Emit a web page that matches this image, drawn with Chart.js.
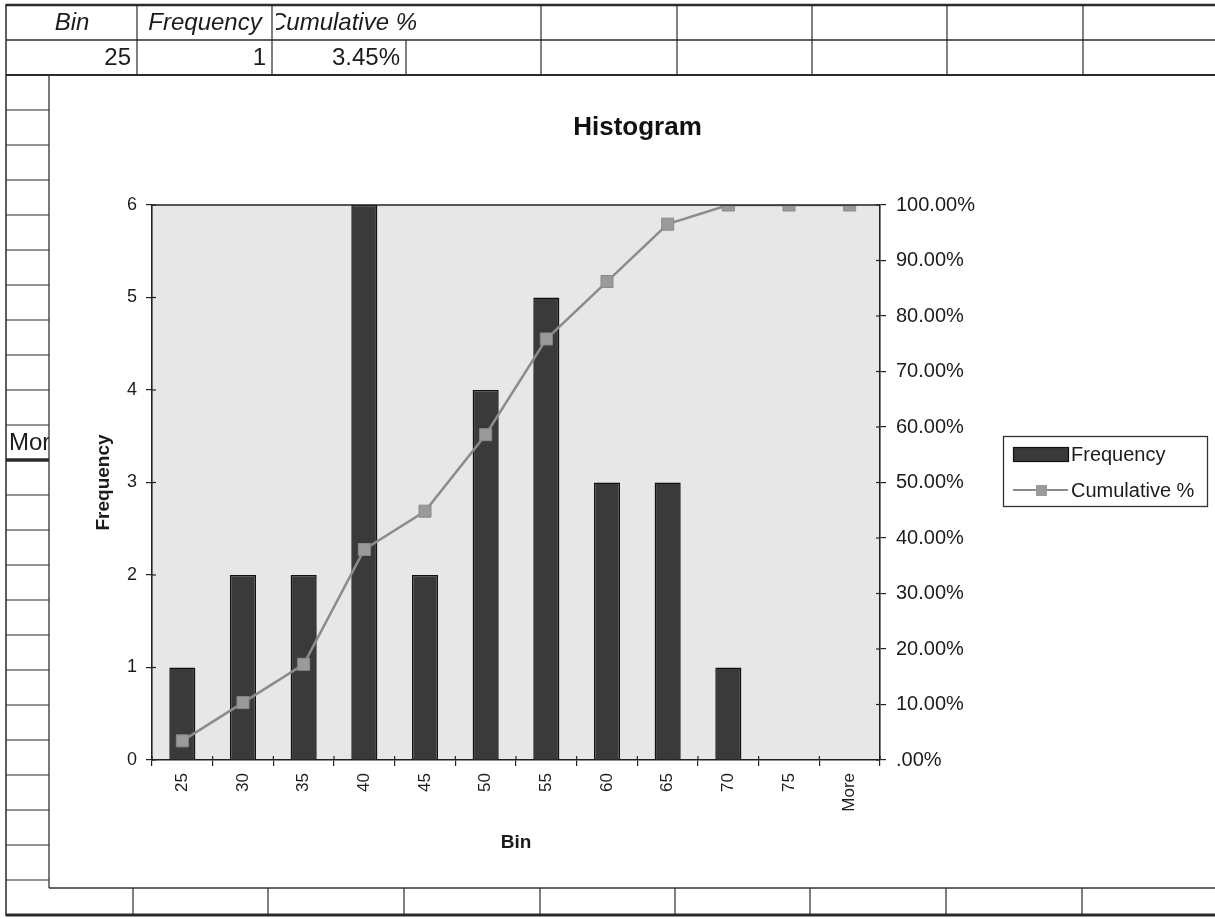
<!DOCTYPE html>
<html>
<head>
<meta charset="utf-8">
<title>Histogram</title>
<script src="https://cdn.jsdelivr.net/npm/chart.js@4.4.1/dist/chart.umd.min.js"></script>
<style>
  html, body { margin: 0; padding: 0; background: #fff; }
  #wrap { width: 1215px; height: 919px; position: relative; }
  canvas { display: block; }
</style>
</head>
<body>
<div id="wrap"><canvas id="histo" width="1215" height="919"></canvas></div>
<script>
// Histogram data (bins, counts and running percentage)
const bins = ['25', '30', '35', '40', '45', '50', '55', '60', '65', '70', '75', 'More'];
const frequency = [1, 2, 2, 6, 2, 4, 5, 3, 3, 1, 0, 0];
const cumulativePct = [3.45, 10.34, 17.24, 37.93, 44.83, 58.62, 75.86, 86.21, 96.55, 100, 100, 100];

// Column headings of the worksheet table
const tableHeaders = ['Bin', 'Frequency', 'Cumulative %'];

// Axis tick labels
const freqTickLabels = ['0', '1', '2', '3', '4', '5', '6'];
const pctTickLabels = ['.00%', '10.00%', '20.00%', '30.00%', '40.00%', '50.00%',
                       '60.00%', '70.00%', '80.00%', '90.00%', '100.00%'];

const FONT = "'Liberation Sans', Arial, Helvetica, sans-serif";
const INK = '#1c1c1c';
const BAR_FILL = '#3a3a3a';
const BAR_EDGE = '#111111';
const LINE_COL = '#8c8c8c';
const MARK_COL = '#9a9a9a';

Chart.defaults.font.family = FONT;
Chart.defaults.color = INK;

function seg(ctx, x1, y1, x2, y2, w, c) {
  ctx.beginPath();
  ctx.lineWidth = w;
  ctx.strokeStyle = c;
  ctx.moveTo(x1, y1);
  ctx.lineTo(x2, y2);
  ctx.stroke();
}

// Worksheet cells behind the embedded chart, the chart's white panel and the grey plot area
const sheetPlugin = {
  id: 'sheet',
  beforeDraw(chart) {
    const ctx = chart.ctx;
    ctx.save();
    ctx.fillStyle = '#ffffff';
    ctx.fillRect(0, 0, chart.width, chart.height);

    const g = '#2a2a2a';
    // table rows at the top
    seg(ctx, 6, 5, 1215, 5, 2.5, g);
    seg(ctx, 6, 40, 1215, 40, 1.3, g);
    seg(ctx, 6, 75, 1215, 75, 2, g);
    seg(ctx, 6, 4, 6, 916, 1.5, g);
    [137, 272, 541, 677, 812, 947, 1083].forEach(x => seg(ctx, x, 5, x, 75, 1.2, g));
    seg(ctx, 406, 40, 406, 75, 1.2, g);

    // row lines down the left strip
    for (let k = 1; k <= 23; k++) {
      const y = 75 + 35 * k;
      seg(ctx, 6, y, 49, y, y === 460 ? 3.5 : 1.2, g);
    }
    // bottom row
    seg(ctx, 6, 915, 1215, 915, 3, g);
    [133, 268, 404, 540, 675, 810, 946, 1082].forEach(x => seg(ctx, x, 888, x, 915, 1.2, g));

    // cell text
    ctx.fillStyle = INK;
    ctx.textBaseline = 'middle';
    ctx.font = 'italic 24px ' + FONT;
    ctx.textAlign = 'center';
    ctx.fillText(tableHeaders[0], 72, 23);
    ctx.fillText(tableHeaders[1], 205, 23);
    ctx.save();
    ctx.beginPath();
    ctx.rect(276, 6, 939, 33);
    ctx.clip();
    ctx.fillText(tableHeaders[2], 343, 23);
    ctx.restore();
    ctx.font = '24px ' + FONT;
    ctx.textAlign = 'right';
    ctx.fillText(bins[0], 131, 58);
    ctx.fillText(String(frequency[0]), 266, 58);
    ctx.fillText(cumulativePct[0].toFixed(2) + '%', 400, 58);
    ctx.textAlign = 'left';
    ctx.fillText(bins[bins.length - 1], 9, 443);

    // embedded chart panel
    ctx.fillStyle = '#ffffff';
    ctx.fillRect(49, 76, 1215 - 49, 888 - 76);
    seg(ctx, 49, 75, 49, 888, 1.3, '#333');
    seg(ctx, 49, 888, 1215, 888, 1.3, '#333');

    // plot area
    const a = chart.chartArea;
    ctx.fillStyle = '#e7e7e7';
    ctx.fillRect(a.left, a.top, a.right - a.left, a.bottom - a.top);
    ctx.restore();
  },
  afterDatasetsDraw(chart) {
    const ctx = chart.ctx;
    const a = chart.chartArea;
    ctx.save();
    seg(ctx, a.left, a.top, a.right, a.top, 1.6, '#222');
    // short inner half of the crossing tick marks
    const y = chart.scales.y, y1 = chart.scales.y1;
    y.ticks.forEach((t, i) => {
      const p = y.getPixelForTick(i);
      seg(ctx, a.left, p, a.left + 4, p, 1.2, '#222');
    });
    y1.ticks.forEach((t, i) => {
      const p = y1.getPixelForTick(i);
      seg(ctx, a.right - 4, p, a.right, p, 1.2, '#222');
    });
    const step = (a.right - a.left) / bins.length;
    for (let i = 0; i <= bins.length; i++) {
      const p = a.left + i * step;
      seg(ctx, p, a.bottom - 4, p, a.bottom, 1.2, '#222');
    }
    ctx.restore();
  },
  afterDraw(chart) {
    // legend box on the right
    const ctx = chart.ctx;
    const ds = chart.data.datasets;
    ctx.save();
    ctx.fillStyle = '#ffffff';
    ctx.fillRect(1003, 436, 204, 70);
    ctx.strokeStyle = '#333';
    ctx.lineWidth = 1.3;
    ctx.strokeRect(1003.5, 436.5, 204, 70);

    ctx.fillStyle = ds[1].backgroundColor;
    ctx.fillRect(1013, 447, 55, 14);
    ctx.strokeStyle = ds[1].borderColor;
    ctx.lineWidth = 1.2;
    ctx.strokeRect(1013.5, 447.5, 55, 14);

    seg(ctx, 1013, 490, 1068, 490, 2, ds[0].borderColor);
    ctx.fillStyle = ds[0].pointBackgroundColor;
    ctx.fillRect(1036, 485, 11, 11);

    ctx.fillStyle = INK;
    ctx.font = '20px ' + FONT;
    ctx.textAlign = 'left';
    ctx.textBaseline = 'middle';
    ctx.fillText(ds[1].label, 1071, 455);
    ctx.fillText(ds[0].label, 1071, 491);
    ctx.restore();
  }
};

new Chart(document.getElementById('histo'), {
  data: {
    labels: bins,
    datasets: [
      {
        type: 'line',
        label: tableHeaders[2],
        data: cumulativePct,
        yAxisID: 'y1',
        order: 0,
        borderColor: LINE_COL,
        borderWidth: 2.5,
        pointStyle: 'rect',
        pointRadius: 8.5,
        pointBackgroundColor: MARK_COL,
        pointBorderColor: '#8a8a8a',
        pointBorderWidth: 1,
        tension: 0,
        fill: false
      },
      {
        type: 'bar',
        label: tableHeaders[1],
        data: frequency,
        yAxisID: 'y',
        order: 1,
        backgroundColor: BAR_FILL,
        borderColor: BAR_EDGE,
        borderWidth: 1.5,
        categoryPercentage: 1,
        barPercentage: 0.43
      }
    ]
  },
  options: {
    responsive: false,
    animation: false,
    layout: { padding: { left: 60, right: 0, top: 115, bottom: 67 } },
    plugins: {
      legend: { display: false },
      tooltip: { enabled: false },
      title: {
        display: true,
        text: 'Histogram',
        color: '#111',
        font: { size: 26, weight: 'bold', lineHeight: 1 },
        padding: { top: 0, bottom: 64 }
      }
    },
    scales: {
      x: {
        type: 'category',
        offset: true,
        grid: { offset: true, drawOnChartArea: false, drawTicks: true, tickLength: 6, color: '#222', lineWidth: 1.2 },
        border: { display: true, color: '#222', width: 1.6 },
        ticks: { minRotation: 90, maxRotation: 90, autoSkip: false, padding: 7, color: INK, font: { size: 17 } },
        title: { display: true, text: tableHeaders[0], color: INK, font: { size: 19, weight: 'bold', lineHeight: 1 }, padding: { top: 0, bottom: 0 } },
        afterFit(s) { s.height = 92; }
      },
      y: {
        position: 'left',
        min: 0,
        max: 6,
        ticks: { stepSize: 1, padding: 9, color: INK, font: { size: 18 }, callback: (v, i) => freqTickLabels[i] },
        grid: { drawOnChartArea: false, drawTicks: true, tickLength: 6, color: '#222', lineWidth: 1.2 },
        border: { display: true, color: '#222', width: 1.6 },
        title: { display: true, text: tableHeaders[1], color: INK, font: { size: 19, weight: 'bold', lineHeight: 1 }, padding: { top: 34, bottom: 0 } },
        afterFit(s) { s.width = 92; }
      },
      y1: {
        position: 'right',
        min: 0,
        max: 100,
        ticks: { stepSize: 10, padding: 10, color: INK, font: { size: 20 }, callback: (v, i) => pctTickLabels[i] },
        grid: { drawOnChartArea: false, drawTicks: true, tickLength: 6, color: '#222', lineWidth: 1.2 },
        border: { display: true, color: '#222', width: 1.6 },
        afterFit(s) { s.width = 335; }
      }
    }
  },
  plugins: [sheetPlugin]
});
</script>
</body>
</html>
